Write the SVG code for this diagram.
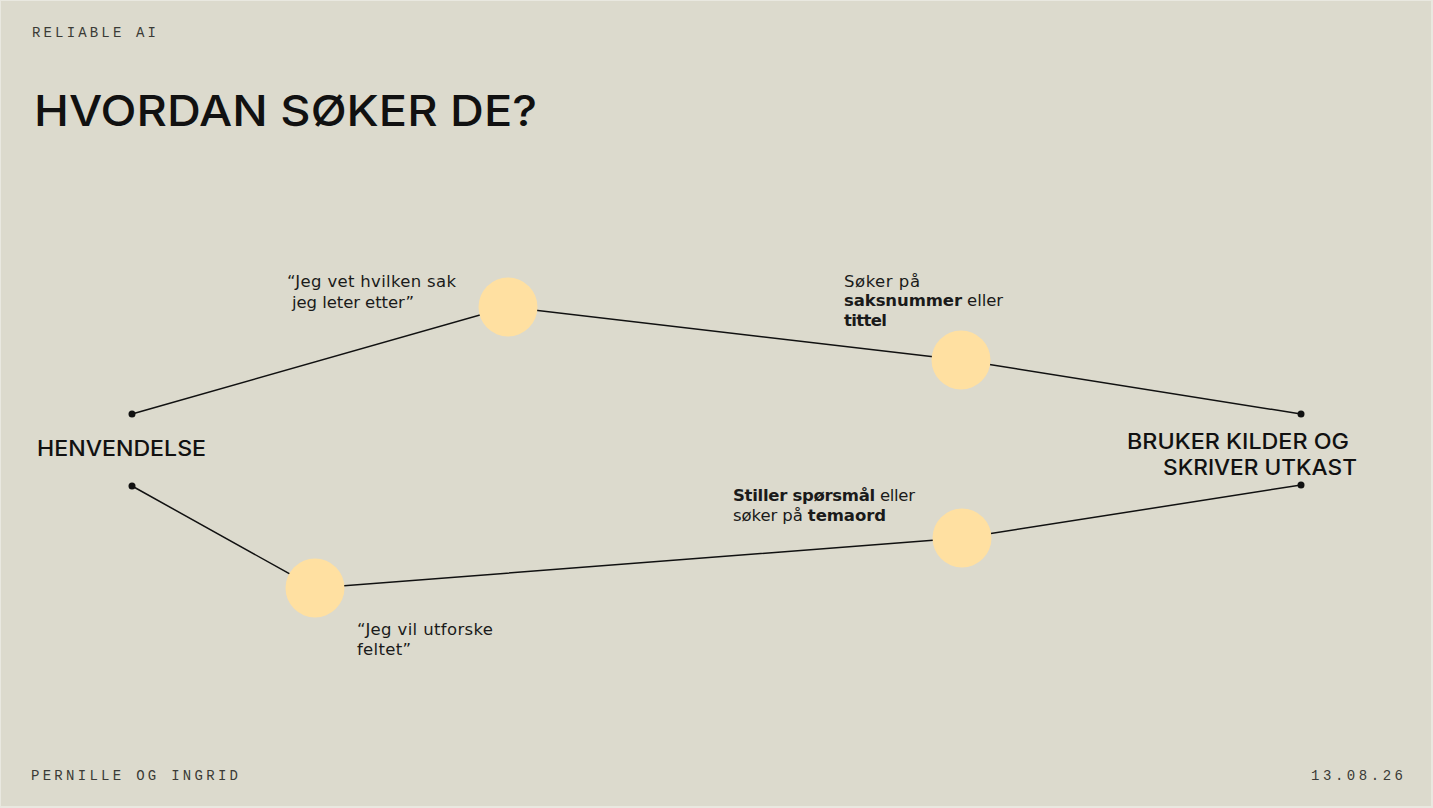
<svg xmlns="http://www.w3.org/2000/svg" width="1433" height="808" viewBox="0 0 1433 808">
  <style>
    .mono { font-family: "Liberation Mono", "Courier New", monospace; font-size: 14px; fill: #3a3a36; }
    .title { font-family: Inter, "Liberation Sans", Arial, sans-serif; font-size: 43px; font-weight: 500; fill: #111; }
    .big { font-family: Inter, "Liberation Sans", Arial, sans-serif; font-size: 21.5px; font-weight: 500; fill: #111; }
    .body { font-family: "DejaVu Sans", "Liberation Sans", sans-serif; font-size: 16.5px; fill: #1a1a1a; }
    .b { font-weight: bold; }
    .edge { stroke: #111; stroke-width: 1.5; fill: none; }
    .dot { fill: #111; }
    .step { fill: #FFE0A1; }
  </style>
  <rect x="0" y="0" width="1433" height="808" fill="#E9E8E0"/>
  <rect x="1" y="1" width="1430" height="805" fill="#DCDACD"/>

  <g id="header">
    <text class="mono" x="32" y="37" textLength="124" lengthAdjust="spacing">RELIABLE AI</text>
    <text class="title" x="34" y="126" textLength="503" lengthAdjust="spacingAndGlyphs">HVORDAN SØKER DE?</text>
  </g>

  <g id="connectors">
    <polyline class="edge" points="132,414 508,307 961,360 1301,414"/>
    <polyline class="edge" points="132,486 315,588 962,538 1301,485"/>
  </g>

  <g id="node-henvendelse">
    <circle class="dot" cx="132" cy="414" r="3.5"/>
    <circle class="dot" cx="132" cy="486" r="3.5"/>
    <text class="big" x="37" y="456" textLength="169" lengthAdjust="spacingAndGlyphs">HENVENDELSE</text>
  </g>

  <g id="node-bruker">
    <circle class="dot" cx="1301" cy="414" r="3.5"/>
    <circle class="dot" cx="1301" cy="485" r="3.5"/>
    <text class="big" x="1127" y="449" textLength="222" lengthAdjust="spacingAndGlyphs">BRUKER KILDER OG</text>
    <text class="big" x="1163" y="475" textLength="194" lengthAdjust="spacingAndGlyphs">SKRIVER UTKAST</text>
  </g>

  <g id="node-vet-sak">
    <circle class="step" cx="508" cy="307" r="29.5"/>
    <text class="body" x="287" y="287" textLength="169" lengthAdjust="spacing">“Jeg vet hvilken sak</text>
    <text class="body" x="292" y="308" textLength="122" lengthAdjust="spacing">jeg leter etter”</text>
  </g>

  <g id="node-saksnummer">
    <circle class="step" cx="961" cy="360" r="29.5"/>
    <text class="body" x="844" y="287" textLength="76" lengthAdjust="spacing">Søker på</text>
    <text class="body" x="844" y="306" textLength="159" lengthAdjust="spacing"><tspan class="b">saksnummer</tspan> eller</text>
    <text class="body b" x="844" y="326" textLength="43" lengthAdjust="spacing">tittel</text>
  </g>

  <g id="node-utforske">
    <circle class="step" cx="315" cy="588" r="29.5"/>
    <text class="body" x="357" y="635" textLength="136" lengthAdjust="spacing">“Jeg vil utforske</text>
    <text class="body" x="357" y="655" textLength="54" lengthAdjust="spacing">feltet”</text>
  </g>

  <g id="node-temaord">
    <circle class="step" cx="962" cy="538" r="29.5"/>
    <text class="body" x="733" y="501" textLength="182" lengthAdjust="spacing"><tspan class="b">Stiller spørsmål</tspan> eller</text>
    <text class="body" x="733" y="521" textLength="153" lengthAdjust="spacing">søker på <tspan class="b">temaord</tspan></text>
  </g>

  <g id="footer">
    <text class="mono" x="31" y="780" textLength="207" lengthAdjust="spacing">PERNILLE OG INGRID</text>
    <text class="mono" x="1311" y="780" textLength="92" lengthAdjust="spacing">13.08.26</text>
  </g>
</svg>
